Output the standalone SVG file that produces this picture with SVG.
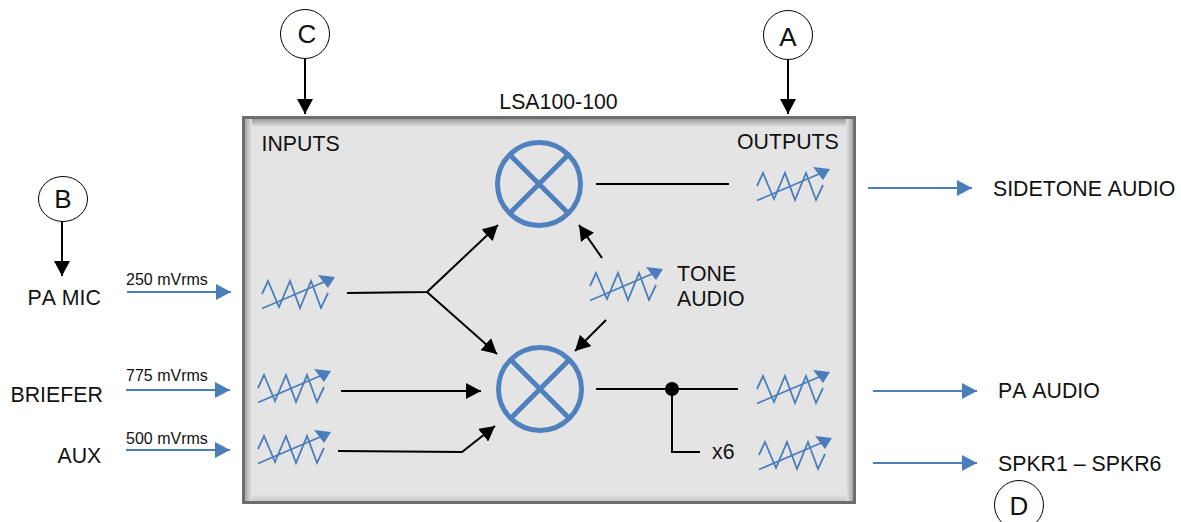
<svg xmlns="http://www.w3.org/2000/svg" width="1181" height="522" viewBox="0 0 1181 522">
<style>
text{font-family:"Liberation Sans",Arial,sans-serif;fill:#111;font-size:21.3px;font-kerning:none}
.s{font-size:16px}
.k{fill:none;stroke:#000;stroke-width:2}
.b{fill:none;stroke:#4a7ebb;stroke-width:2}
.m{fill:none;stroke:#4f81bd;stroke-width:5}
.c{fill:#fff;stroke:#000;stroke-width:1}
.z{fill:none;stroke:#4a7ebb;stroke-width:1.8}
.t{font-size:26px}
</style>
<defs>
<marker id="ak" markerUnits="userSpaceOnUse" markerWidth="16" markerHeight="16" refX="15" refY="8" orient="auto"><path d="M0,0L15,8L0,16Z" fill="#000"/></marker>
<marker id="ab" markerUnits="userSpaceOnUse" markerWidth="16" markerHeight="16" refX="15" refY="8" orient="auto"><path d="M0,0L15,8L0,16Z" fill="#4a7ebb"/></marker>
<linearGradient id="gt" x1="0" y1="0" x2="0" y2="1"><stop offset="0" stop-color="#9a9a9a"/><stop offset="1" stop-color="#e4e4e4"/></linearGradient>
<linearGradient id="gb" x1="0" y1="0" x2="0" y2="1"><stop offset="0" stop-color="#e4e4e4"/><stop offset="1" stop-color="#c8cac8"/></linearGradient>
<linearGradient id="gl" x1="0" y1="0" x2="1" y2="0"><stop offset="0" stop-color="#a8a8a8"/><stop offset="1" stop-color="#e4e4e4"/></linearGradient>
<linearGradient id="gr" x1="0" y1="0" x2="1" y2="0"><stop offset="0" stop-color="#e4e4e4"/><stop offset="1" stop-color="#a8a8a8"/></linearGradient>
<g id="sig">
<path class="z" d="M0,19L6,6L17,32L28,6L38,33L49,6L59,33L66,18"/>
<path class="z" d="M0,33.5L62,7"/>
<path d="M73,2L56,0L66,13Z" fill="#4a7ebb"/>
</g>
<g id="mix">
<circle class="m" r="41.5"/>
<path class="m" d="M-28,-28L28,28M-28,28L28,-28"/>
</g>
</defs>

<g id="device">
<rect x="243" y="117" width="612" height="386" fill="#e4e4e4"/>
<rect x="245" y="119" width="608" height="8" fill="url(#gt)"/>
<rect x="245" y="494" width="608" height="7" fill="url(#gb)"/>
<rect x="245" y="119" width="7" height="382" fill="url(#gl)"/>
<rect x="846" y="119" width="7" height="382" fill="url(#gr)"/>
<rect x="243.5" y="117.5" width="611" height="385" fill="none" stroke="#6e6e6e" stroke-width="3"/>
<text x="558.5" y="109" text-anchor="middle">LSA100-100</text>
<text x="261.5" y="151">INPUTS</text>
<text x="737" y="149">OUTPUTS</text>
</g>

<g id="connectors">
<path class="k" d="M305,58V114" marker-end="url(#ak)"/>
<path class="k" d="M788,57V114" marker-end="url(#ak)"/>
<path class="k" d="M62,221V276" marker-end="url(#ak)"/>
<path class="k" d="M347,293L427,292L498,225" marker-end="url(#ak)"/>
<path class="k" d="M427,292L497,354" marker-end="url(#ak)"/>
<path class="k" d="M596,184H729"/>
<path class="k" d="M602,258L579,225" marker-end="url(#ak)"/>
<path class="k" d="M606,320L575,351" marker-end="url(#ak)"/>
<path class="k" d="M341,391H481" marker-end="url(#ak)"/>
<path class="k" d="M338,451L462,452L495,426" marker-end="url(#ak)"/>
<path class="k" d="M596,389H738"/>
<path class="k" d="M672,389V452H700"/>
<circle cx="672" cy="389" r="7" fill="#000"/>
<path class="b" d="M127,292H231" marker-end="url(#ab)"/>
<path class="b" d="M126,390H230" marker-end="url(#ab)"/>
<path class="b" d="M126,450H230" marker-end="url(#ab)"/>
<path class="b" d="M868,188H972" marker-end="url(#ab)"/>
<path class="b" d="M873,391H977" marker-end="url(#ab)"/>
<path class="b" d="M873,463H977" marker-end="url(#ab)"/>
</g>

<g id="node-c"><circle class="c" cx="305" cy="34" r="24.5"/><text class="t" x="307" y="43" text-anchor="middle">C</text></g>
<g id="node-a"><circle class="c" cx="788" cy="35" r="24.5"/><text class="t" x="788" y="46" text-anchor="middle">A</text></g>
<g id="node-b"><ellipse class="c" cx="63" cy="199" rx="24.5" ry="22.5"/><text class="t" x="63" y="208" text-anchor="middle">B</text></g>
<g id="node-d"><circle class="c" cx="1019" cy="505" r="24.5"/><text class="t" x="1019" y="515" text-anchor="middle">D</text></g>

<g id="mixer-top"><use href="#mix" x="539" y="184"/></g>
<g id="mixer-bottom"><use href="#mix" x="540" y="389"/></g>

<g id="sig-pa-mic"><use href="#sig" x="262" y="275"/></g>
<g id="sig-briefer"><use href="#sig" x="258" y="369"/></g>
<g id="sig-aux"><use href="#sig" x="258" y="430"/></g>
<g id="sig-sidetone"><use href="#sig" x="757" y="167"/></g>
<g id="sig-tone"><use href="#sig" x="590" y="267"/></g>
<g id="sig-pa-audio"><use href="#sig" x="757" y="370"/></g>
<g id="sig-spkr"><use href="#sig" x="759" y="436"/></g>

<g id="labels">
<text x="27.5" y="305">PA MIC</text>
<text x="10.5" y="402">BRIEFER</text>
<text x="57.5" y="463">AUX</text>
<text class="s" x="126" y="285">250 mVrms</text>
<text class="s" x="126" y="381">775 mVrms</text>
<text class="s" x="126" y="444">500 mVrms</text>
<text x="677" y="281">TONE</text>
<text x="677" y="306">AUDIO</text>
<text x="712" y="459">x6</text>
<text x="993" y="196">SIDETONE AUDIO</text>
<text x="998" y="398">PA AUDIO</text>
<text x="998" y="471">SPKR1 – SPKR6</text>
</g>
</svg>
